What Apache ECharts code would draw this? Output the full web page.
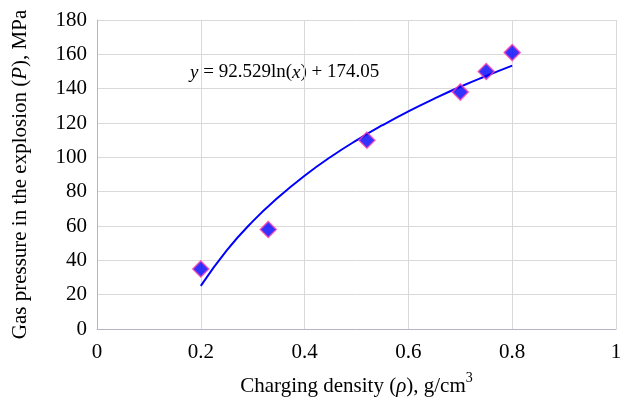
<!DOCTYPE html>
<html><head><meta charset="utf-8">
<script src="https://cdn.jsdelivr.net/npm/echarts@6/dist/echarts.min.js"></script>
<style>html,body{margin:0;padding:0;background:#fff}#c{width:628px;height:398px}</style>
</head><body><div id="c"></div>
<script>
const densities = [0.2, 0.33, 0.52, 0.7, 0.75, 0.8];
const pressures = [35, 58, 110, 138, 150, 161];
const trendX = [0.2, 0.25, 0.3, 0.35, 0.4, 0.45, 0.5, 0.55, 0.6, 0.65, 0.7, 0.75, 0.8];
const trendY = [25.1, 45.8, 62.7, 76.9, 89.3, 100.2, 109.9, 118.7, 126.8, 134.2, 141.1, 147.4, 153.4];
const xTicks = [0, 0.2, 0.4, 0.6, 0.8, 1];
const yTicks = [0, 20, 40, 60, 80, 100, 120, 140, 160, 180];

const font = 'Liberation Serif';
const chart = echarts.init(document.getElementById('c'));
chart.setOption({
  animation: false,
  grid: {left: 97, right: 12, top: 20, bottom: 69, containLabel: false, outerBoundsMode: 'none'},
  xAxis: {
    type: 'value', min: 0, max: 1, interval: 0.2,
    name: 'Charging density ({i|ρ}), g/cm{sup|3}',
    nameLocation: 'middle', nameGap: 42,
    nameTextStyle: {fontFamily: font, fontSize: 21, color: '#000',
      rich: {i: {fontFamily: font, fontSize: 21, fontStyle: 'italic', color: '#000'},
             sup: {fontFamily: font, fontSize: 14, color: '#000', verticalAlign: 'bottom', padding: [0,0,16,0]}}},
    axisLine: {lineStyle: {color: '#b4b4c4'}},
    axisTick: {show: false},
    axisLabel: {fontFamily: font, fontSize: 21, color: '#000', margin: 13,
      formatter: v => xTicks.includes(+v.toFixed(1)) ? String(+v.toFixed(1)) : ''},
    splitLine: {lineStyle: {color: '#d9d9d9'}}
  },
  yAxis: {
    type: 'value', min: 0, max: 180, interval: 20,
    name: 'Gas pressure in the explosion ({i|P}), MPa',
    nameLocation: 'middle', nameGap: 66,
    nameTextStyle: {fontFamily: font, fontSize: 21, color: '#000',
      rich: {i: {fontFamily: font, fontSize: 21, fontStyle: 'italic', color: '#000'}}},
    axisLine: {show: true, lineStyle: {color: '#b4b4c4'}},
    axisTick: {show: false},
    axisLabel: {fontFamily: font, fontSize: 21, color: '#000', margin: 10,
      formatter: v => yTicks.includes(v) ? String(v) : ''},
    splitLine: {lineStyle: {color: '#d9d9d9'}}
  },
  series: [
    {type: 'line', data: trendX.map((x, i) => [x, trendY[i]]), smooth: true, showSymbol: false,
     lineStyle: {color: '#0000ff', width: 2}, z: 2},
    {type: 'scatter', data: densities.map((x, i) => [x, pressures[i]]), symbol: 'diamond', symbolSize: 16,
     itemStyle: {color: '#0000ff', borderColor: '#ff3fa8', borderWidth: 1.5}, z: 3}
  ],
  graphic: [{
    type: 'text', left: 190, top: 63,
    style: {text: '{i|y} = 92.529ln({i|x}) + 174.05',
      fontFamily: font, fontSize: 19, fill: '#000',
      rich: {i: {fontFamily: font, fontSize: 19, fontStyle: 'italic', fill: '#000'}}}
  }]
});
</script></body></html>
